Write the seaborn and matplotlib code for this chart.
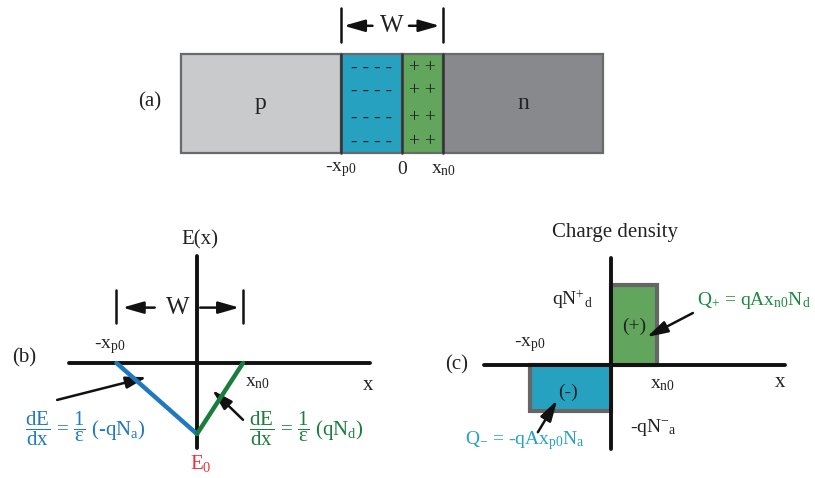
import numpy as np
import pandas as pd
import matplotlib
matplotlib.use("Agg")
import matplotlib.pyplot as plt
import seaborn as sns

# ---- panel (a): p-n junction layers (arbitrary length units) ----
layer_edges = [-5.4, -1.5, 0.0, 1.0, 4.9]
layer_names = ["p", "", "", "n"]
layer_colors = ["#c9cacc", "#27a1c0", "#61a65c", "#88898c"]
layer_marks = ["", "- - - -", "+ +", ""]
mark_rows = [0.86, 0.63, 0.36, 0.12]
a_ticks = [-1.5, 0.0, 1.0]
a_tick_labels = ["-x$_{\\mathrm{p0}}$", "0", "x$_{\\mathrm{n0}}$"]

# ---- panels (b) and (c): depletion edges, field and charge density ----
xp0 = 1.75
xn0 = 1.0
field_x = [-1.75, 0.0, 1.0]
field_E = [0.0, -1.0, 0.0]
rho_Nd = 1.0
rho_Na = 0.58

W_PX, H_PX = 815, 478

sns.set_theme(style="white")
plt.rcParams["font.family"] = ["Liberation Serif", "DejaVu Serif"]
plt.rcParams["mathtext.fontset"] = "custom"
plt.rcParams["mathtext.rm"] = "Liberation Serif"
plt.rcParams["mathtext.it"] = "Liberation Serif:italic"
plt.rcParams["mathtext.bf"] = "Liberation Serif:bold"

fig = plt.figure(figsize=(W_PX / 100, H_PX / 100), dpi=100)
fig.patch.set_facecolor("white")


def panel(origin, sx, sy):
    """Full-figure transparent axes whose data origin sits at a pixel point."""
    ax = fig.add_axes([0, 0, 1, 1])
    ox, oy = origin
    ax.set_xlim(-ox / sx, (W_PX - ox) / sx)
    ax.set_ylim((oy - H_PX) / sy, oy / sy)
    ax.axis("off")
    ax.patch.set_alpha(0)
    return ax


def arrow(ax, start, end, lw=1.8, ms=18):
    ax.annotate("", xy=end, xytext=start,
                arrowprops=dict(arrowstyle="-|>,head_length=0.7,head_width=0.2",
                                color="#111111", lw=lw,
                                mutation_scale=ms, shrinkA=0, shrinkB=0))


TXT = "#222222"

# ================= (a) =================
axa = panel((402, 153), 41, 99)
edges = np.array(layer_edges)
axa.bar(edges[:-1], 1.0, width=np.diff(edges), align="edge",
        color=layer_colors, edgecolor="#6a6a6a", linewidth=1.6, zorder=1)
for xb in a_ticks:
    axa.plot([xb, xb], [0, 1], color="#333333", lw=1.8, zorder=2)
for left, w, name, mark in zip(edges[:-1], np.diff(edges), layer_names, layer_marks):
    if name:
        axa.text(left + w / 2, 0.5, name, ha="center", va="center", fontsize=17, color=TXT)
    if mark:
        for yr in mark_rows:
            axa.text(left + w / 2, yr, mark, ha="center", va="center", fontsize=14, color=TXT)
for xb, lab in zip(a_ticks, a_tick_labels):
    axa.text(xb, -0.17, lab, ha="center", va="center", fontsize=14, color=TXT)
axa.text(-6.15, 0.52, "(a)", ha="center", va="center", fontsize=15, color=TXT)
# depletion width marker
for xb in (a_ticks[0], a_ticks[2]):
    axa.plot([xb, xb], [1.12, 1.465], color="#111111", lw=1.8)
axa.text(-0.24, 1.285, "W", ha="center", va="center", fontsize=18, color=TXT)
arrow(axa, (-0.72, 1.285), (-1.42, 1.285))
arrow(axa, (0.17, 1.285), (0.92, 1.285))

# ================= (b) =================
axb = panel((197, 363), 46, 71)
axb.plot([-2.78, 3.76], [0, 0], color="#111111", lw=2.8, zorder=3)
axb.plot([0, 0], [-1.20, 1.51], color="#111111", lw=2.8, zorder=3)
field_df = pd.DataFrame({
    "x": [field_x[0], field_x[1], field_x[1], field_x[2]],
    "E": [field_E[0], field_E[1], field_E[1], field_E[2]],
    "side": ["p", "p", "n", "n"],
})
sns.lineplot(data=field_df, x="x", y="E", hue="side", palette={"p": "#1f78c0", "n": "#1b7d3d"},
             sort=False, estimator=None, lw=3.2, legend=False, ax=axb, zorder=4)
axb.axis("off")
axb.set_xlim(-197 / 46, (W_PX - 197) / 46)
axb.set_ylim((363 - H_PX) / 71, 363 / 71)
for xb in (-xp0, xn0):
    axb.plot([xb, xb], [0.56, 1.03], color="#111111", lw=1.8)
axb.text(-0.41, 0.78, "W", ha="center", va="center", fontsize=18, color=TXT)
arrow(axb, (-0.92, 0.78), (-1.62, 0.78))
arrow(axb, (0.07, 0.78), (0.92, 0.78))
axb.text(0.07, 1.73, "E(x)", ha="center", va="center", fontsize=15, color=TXT)
axb.text(-3.76, 0.07, "(b)", ha="center", va="center", fontsize=15, color=TXT)
axb.text(-1.89, 0.23, "-x$_{\\mathrm{p0}}$", ha="center", va="center", fontsize=14, color=TXT)
axb.text(1.32, -0.28, "x$_{\\mathrm{n0}}$", ha="center", va="center", fontsize=14, color=TXT)
axb.text(3.72, -0.32, "x", ha="center", va="center", fontsize=15, color=TXT)
axb.text(0.08, -1.41, "E$_{\\mathrm{0}}$", ha="center", va="center", fontsize=15, color="#e8333b")
axb.text(-2.43, -0.93,
         r"$\dfrac{\mathrm{dE}}{\mathrm{dx}}$ = $\dfrac{1}{\mathrm{ε}}$ (-qN$_{\mathrm{a}}$)",
         ha="center", va="center", fontsize=15, color="#1f78c0")
axb.text(2.37, -0.93,
         r"$\dfrac{\mathrm{dE}}{\mathrm{dx}}$ = $\dfrac{1}{\mathrm{ε}}$ (qN$_{\mathrm{d}}$)",
         ha="center", va="center", fontsize=15, color="#1b7d3d")
arrow(axb, (-3.04, -0.52), (-1.09, -0.20))
arrow(axb, (1.00, -0.80), (0.33, -0.38))

# ================= (c) =================
axc = panel((611, 365), 46, 80)
axc.bar([-xp0, 0.0], [-rho_Na, rho_Nd], width=[xp0, xn0], align="edge",
        color=["#27a1c0", "#61a65c"], edgecolor="#666666", linewidth=3, zorder=2)
axc.plot([-2.76, 3.78], [0, 0], color="#111111", lw=2.8, zorder=3)
axc.plot([0, 0], [-1.05, 1.34], color="#111111", lw=2.8, zorder=3)
axc.text(0.09, 1.66, "Charge density", ha="center", va="center", fontsize=15, color=TXT)
axc.text(-0.83, 0.82, r"qN$^{+}{}_{\mathrm{d}}$", ha="center", va="center", fontsize=14, color=TXT)
axc.text(-3.35, 0.0, "(c)", ha="center", va="center", fontsize=15, color=TXT)
axc.text(-1.76, 0.25, "-x$_{\\mathrm{p0}}$", ha="center", va="center", fontsize=14, color=TXT)
axc.text(1.13, -0.25, "x$_{\\mathrm{n0}}$", ha="center", va="center", fontsize=14, color=TXT)
axc.text(3.67, -0.22, "x", ha="center", va="center", fontsize=15, color=TXT)
axc.text(0.5, 0.48, "(+)", ha="center", va="center", fontsize=14, color=TXT)
axc.text(-0.93, -0.34, "(-)", ha="center", va="center", fontsize=14, color=TXT)
axc.text(0.93, -0.78, r"-qN$^{-}{}_{\mathrm{a}}$", ha="center", va="center", fontsize=14, color=TXT)
axc.text(1.88, 0.81, r"Q$_{+}$ = qAx$_{\mathrm{n0}}$N$_{\mathrm{d}}$", ha="left", va="center",
         fontsize=14, color="#1b8a3f")
axc.text(-1.87, -0.95, r"Q$_{-}$ = -qAx$_{\mathrm{p0}}$N$_{\mathrm{a}}$", ha="center", va="center",
         fontsize=14, color="#27a1c0")
arrow(axc, (1.78, 0.65), (0.78, 0.35))
arrow(axc, (-1.59, -0.84), (-1.17, -0.44))

fig.savefig("out.png", dpi=100, facecolor="white")
